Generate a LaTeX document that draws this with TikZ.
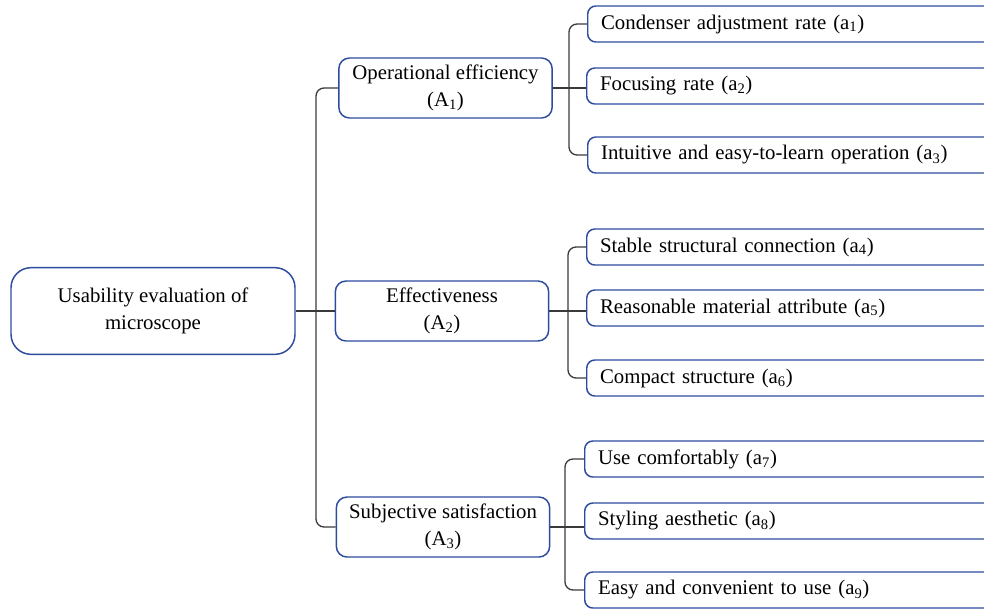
\documentclass[tikz,border=0pt]{standalone}
\usepackage{fontspec}
\setmainfont{Liberation Serif}
\usetikzlibrary{calc}
\definecolor{boxblue}{HTML}{2E4C9E}
\definecolor{linegray}{HTML}{3A3A3A}
\tikzset{
  x=0.75pt,y=-0.75pt,
  base/.style={draw=boxblue,line width=1.1pt,fill=white,font=\fontsize{15.6}{20}\selectfont,inner sep=0pt},
  rootbox/.style={base,rounded corners=15pt,minimum width=213pt,minimum height=65pt,align=center},
  midbox/.style={base,rounded corners=8pt,minimum width=160pt,minimum height=45pt,align=center},
  leafbox/.style={base,rounded corners=6pt,minimum height=27pt,text width=295pt,inner xsep=10pt,align=left,anchor=west},
  conn/.style={draw=linegray,line width=1pt,rounded corners=6pt},
}
\begin{document}
\begin{tikzpicture}
\useasboundingbox (0,0) rectangle (984,610);
\clip (0,0) rectangle (984,610);
\node[rootbox] (root) at (153,311) {Usability evaluation of\\microscope};
\node[midbox] (A1) at (445.5,88) {Operational efficiency\\(A\textsubscript{1})};
\node[midbox] (A2) at (442,311) {Effectiveness\\(A\textsubscript{2})};
\node[midbox] (A3) at (443,527) {Subjective satisfaction\\(A\textsubscript{3})};
\node[leafbox] (a1) at (587,24) {Condenser adjustment rate (a\textsubscript{1})};
\node[leafbox] (a2) at (586,86) {Focusing rate (a\textsubscript{2})};
\node[leafbox] (a3) at (587,155) {Intuitive and easy-to-learn operation (a\textsubscript{3})};
\node[leafbox] (a4) at (586,247) {Stable structural connection (a\textsubscript{4})};
\node[leafbox] (a5) at (586,308) {Reasonable material attribute (a\textsubscript{5})};
\node[leafbox] (a6) at (586,378) {Compact structure (a\textsubscript{6})};
\node[leafbox] (a7) at (584,459) {Use comfortably (a\textsubscript{7})};
\node[leafbox] (a8) at (584,521) {Styling aesthetic (a\textsubscript{8})};
\node[leafbox] (a9) at (584,590) {Easy and convenient to use (a\textsubscript{9})};
\coordinate (t0) at (316,311);
\coordinate (t1) at (569,88);
\coordinate (t2) at (568,309);
\coordinate (t3) at (565,521);
\draw[conn] (A1.west) -| (t0) |- (A3.west);
\draw[conn] (root.east) -- (A2.west);
\draw[conn] (a1.west) -| (t1) |- (a3.west);
\draw[conn] (A1.east) -- (a2.west |- A1.east);
\draw[conn] (a4.west) -| (t2) |- (a6.west);
\draw[conn] (A2.east) -- (a5.west |- A2.east);
\draw[conn] (a7.west) -| (t3) |- (a9.west);
\draw[conn] (A3.east) -- (a8.west |- A3.east);
\end{tikzpicture}
\end{document}
